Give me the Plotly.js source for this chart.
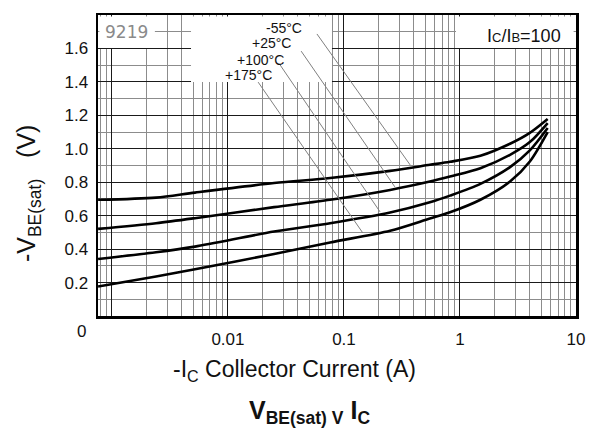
<!DOCTYPE html>
<html>
<head>
<meta charset="utf-8">
<script src="https://cdn.plot.ly/plotly-3.0.1.min.js"></script>
<style>
html,body{margin:0;padding:0;background:#fff;}
#chart{width:599px;height:437px;}
</style>
</head>
<body>
<div id="chart"></div>
<script>
// Collector current (A) sample points
const currentA = [0.00076, 0.0024, 0.0052, 0.025, 0.076, 0.25, 0.55, 0.82, 1.5, 2.7, 4.0, 5.7];
// -VBE(sat) (V) per temperature
const vbeM55 = [0.695, 0.708, 0.738, 0.795, 0.825, 0.868, 0.904, 0.922, 0.958, 1.030, 1.095, 1.178];
const vbe25  = [0.521, 0.555, 0.585, 0.651, 0.695, 0.754, 0.804, 0.834, 0.884, 0.964, 1.040, 1.154];
const vbe100 = [0.341, 0.381, 0.415, 0.505, 0.555, 0.619, 0.680, 0.720, 0.790, 0.890, 0.990, 1.124];
const vbe175 = [0.176, 0.236, 0.280, 0.371, 0.440, 0.510, 0.583, 0.620, 0.695, 0.804, 0.924, 1.100];
const seriesNames = ['-55°C', '+25°C', '+100°C', '+175°C'];
const seriesValues = [vbeM55, vbe25, vbe100, vbe175];

// tick labels
const xTickVals = [0.001, 0.01, 0.1, 1, 10];
const xTickText = ['', '0.01', '0.1', '1', '10'];
const yTickVals = [0, 0.2, 0.4, 0.6, 0.8, 1.0, 1.2, 1.4, 1.6];
const yTickText = ['', '0.2', '0.4', '0.6', '0.8', '1.0', '1.2', '1.4', '1.6'];

// minor grid positions (log 2..9 per decade; odd tenths on y)
const xMinor = [];
[0.0001, 0.001, 0.01, 0.1, 1].forEach(d => { for (let k = 2; k <= 9; k++) xMinor.push(+(d * k).toPrecision(3)); });
const yMinor = [0.1, 0.3, 0.5, 0.7, 0.9, 1.1, 1.3, 1.5, 1.7];

const traces = seriesValues.map((v, i) => ({
  x: currentA, y: v, name: seriesNames[i], type: 'scatter', mode: 'lines',
  line: {color: '#000', width: 2.6, shape: 'spline', smoothing: 0.8},
  showlegend: false, hoverinfo: 'skip'
}));

const F = 'Liberation Sans, Arial, sans-serif';
const leader = {color: '#808080', width: 1};

const layout = {
  width: 599, height: 437,
  margin: {l: 98, r: 23, t: 15, b: 121},
  paper_bgcolor: '#fff', plot_bgcolor: '#fff',
  showlegend: false,
  xaxis: {
    type: 'log', range: [-3.12, 1],
    tickmode: 'array', tickvals: xTickVals, ticktext: xTickText,
    ticks: '', showgrid: true, gridcolor: '#1a1a1a', gridwidth: 1,
    minor: {tickmode: 'array', tickvals: xMinor, showgrid: true, gridcolor: '#8c8c8c', gridwidth: 1, ticks: ''},
    showline: true, mirror: true, linecolor: '#000', linewidth: 2.5,
    zeroline: false,
    tickfont: {family: F, size: 17, color: '#111'},
    ticklabelstandoff: 6
  },
  yaxis: {
    range: [0, 1.8],
    tickmode: 'array', tickvals: yTickVals, ticktext: yTickText,
    ticks: '', showgrid: true, gridcolor: '#1a1a1a', gridwidth: 1,
    minor: {tickmode: 'array', tickvals: yMinor, showgrid: true, gridcolor: '#8c8c8c', gridwidth: 1, ticks: ''},
    showline: true, mirror: true, linecolor: '#000', linewidth: 2.5,
    zeroline: false,
    tickfont: {family: F, size: 17, color: '#111'},
    ticklabelstandoff: 4
  },
  shapes: [
    {type: 'rect', xref: 'paper', yref: 'paper', x0: 0.003, x1: 0.119, y0: 0.890, y1: 0.995, fillcolor: '#fff', line: {width: 0}, layer: 'above'},
    {type: 'rect', xref: 'paper', yref: 'paper', x0: 0.1946, x1: 0.4895, y0: 0.777, y1: 0.995, fillcolor: '#fff', line: {width: 0}, layer: 'above'},
    {type: 'rect', xref: 'paper', yref: 'paper', x0: 0.749, x1: 0.995, y0: 0.890, y1: 0.995, fillcolor: '#fff', line: {width: 0}, layer: 'above'},
    {type: 'line', xref: 'paper', yref: 'paper', x0: 0.458, y0: 0.937, x1: 0.653, y1: 0.502, line: leader, layer: 'above'},
    {type: 'line', xref: 'paper', yref: 'paper', x0: 0.425, y0: 0.880, x1: 0.621, y1: 0.429, line: leader, layer: 'above'},
    {type: 'line', xref: 'paper', yref: 'paper', x0: 0.381, y0: 0.834, x1: 0.590, y1: 0.346, line: leader, layer: 'above'},
    {type: 'line', xref: 'paper', yref: 'paper', x0: 0.335, y0: 0.777, x1: 0.554, y1: 0.276, line: leader, layer: 'above'}
  ],
  annotations: [
    {xref: 'paper', yref: 'paper', x: 0.0586, y: 0.944, text: '9219', showarrow: false, xanchor: 'center', yanchor: 'middle', font: {family: 'DejaVu Sans, sans-serif', size: 17, color: '#8a8a8a'}},
    {xref: 'paper', yref: 'paper', x: 0.389, y: 0.957, text: seriesNames[0], showarrow: false, xanchor: 'center', yanchor: 'middle', font: {family: F, size: 14, color: '#111'}},
    {xref: 'paper', yref: 'paper', x: 0.364, y: 0.907, text: seriesNames[1], showarrow: false, xanchor: 'center', yanchor: 'middle', font: {family: F, size: 14, color: '#111'}},
    {xref: 'paper', yref: 'paper', x: 0.339, y: 0.850, text: seriesNames[2], showarrow: false, xanchor: 'center', yanchor: 'middle', font: {family: F, size: 14, color: '#111'}},
    {xref: 'paper', yref: 'paper', x: 0.314, y: 0.801, text: seriesNames[3], showarrow: false, xanchor: 'center', yanchor: 'middle', font: {family: F, size: 14, color: '#111'}},
    {xref: 'paper', yref: 'paper', x: 0.973, y: 0.930, text: 'I<span style="font-size:13px">C</span>/I<span style="font-size:13px">B</span>=100', showarrow: false, xanchor: 'right', yanchor: 'middle', font: {family: F, size: 18, color: '#111'}},
    {xref: 'paper', yref: 'paper', x: -0.0335, y: -0.053, text: '0', showarrow: false, xanchor: 'center', yanchor: 'middle', font: {family: F, size: 17, color: '#111'}},
    {xref: 'paper', yref: 'paper', x: -0.146, y: 0.409, text: '-V<sub>BE(sat)</sub>\u00A0\u00A0\u00A0(V)', textangle: -90, showarrow: false, xanchor: 'center', yanchor: 'middle', font: {family: F, size: 25, color: '#111'}},
    {xref: 'paper', yref: 'paper', x: 0.412, y: -0.182, text: '-I<sub>C</sub> Collector Current (A)', showarrow: false, xanchor: 'center', yanchor: 'middle', font: {family: F, size: 23, color: '#111'}},
    {xref: 'paper', yref: 'paper', x: 0.4435, y: -0.32, text: '<b>V<sub>BE(sat) V</sub> I<sub>C</sub></b>', showarrow: false, xanchor: 'center', yanchor: 'middle', font: {family: F, size: 25, color: '#111'}}
  ]
};

Plotly.newPlot('chart', traces, layout, {displayModeBar: false, staticPlot: true});
</script>
</body>
</html>
